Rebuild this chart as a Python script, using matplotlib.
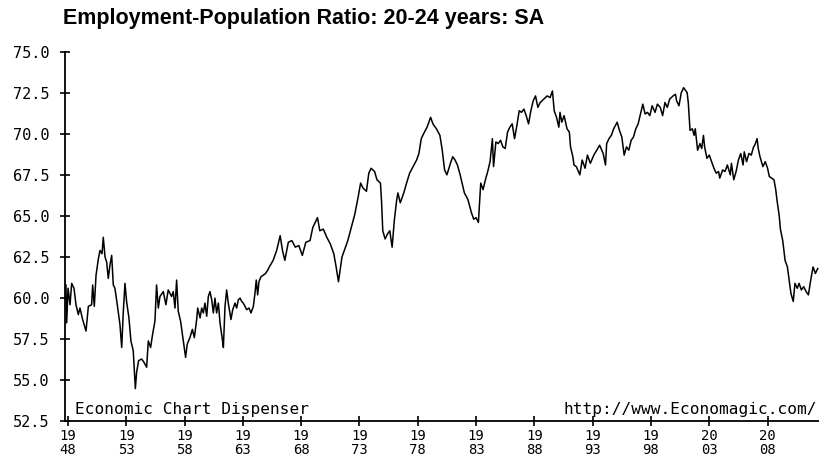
import numpy as np
import matplotlib
matplotlib.use("Agg")
import matplotlib.pyplot as plt

# Employment-population ratio, 20-24 years, SA
years_a = [1947.83, 1947.89, 1948.01, 1948.18, 1948.32, 1948.52, 1948.69, 1948.89,
           1949.03, 1949.26, 1949.55, 1949.75, 1950.03, 1950.12, 1950.26, 1950.41,
           1950.61, 1950.75, 1950.92, 1951.03, 1951.18, 1951.32, 1951.46, 1951.60,
           1951.75, 1951.89, 1952.03, 1952.23, 1952.46, 1952.61, 1952.75, 1952.89,
           1953.03, 1953.23, 1953.40, 1953.60, 1953.78, 1953.89, 1954.06, 1954.32,
           1954.52, 1954.75, 1954.89, 1955.09, 1955.26, 1955.46, 1955.60, 1955.75,
           1955.89, 1956.18, 1956.40, 1956.60, 1956.89, 1957.03, 1957.18, 1957.32,
           1957.46, 1957.66, 1957.89, 1958.09, 1958.23, 1958.46, 1958.67, 1958.84,
           1959.04, 1959.13, 1959.33, 1959.47, 1959.61, 1959.75, 1959.90, 1960.04,
           1960.18, 1960.33, 1960.47, 1960.61, 1960.75, 1960.90, 1961.04, 1961.24,
           1961.33, 1961.47, 1961.61, 1961.75, 1961.98, 1962.13, 1962.33, 1962.47,
           1962.61, 1962.76, 1962.90, 1963.04, 1963.18, 1963.33, 1963.53, 1963.70,
           1963.90, 1964.04, 1964.15, 1964.27, 1964.38, 1964.55, 1964.75, 1964.95,
           1965.13, 1965.27]
ratio_a = [60.8, 58.5, 60.6, 59.6, 60.9, 60.6, 59.6, 59.0,
           59.4, 58.7, 58.0, 59.5, 59.6, 60.8, 59.5, 61.4,
           62.4, 62.9, 62.7, 63.7, 62.5, 62.2, 61.2, 62.0,
           62.6, 60.8, 60.6, 59.6, 58.4, 57.0, 59.2, 60.9,
           59.8, 58.8, 57.4, 56.8, 54.5, 55.5, 56.2, 56.3,
           56.1, 55.8, 57.4, 57.0, 57.8, 58.6, 60.8, 59.4,
           60.1, 60.4, 59.6, 60.5, 60.1, 60.4, 59.4, 61.1,
           59.2, 58.6, 57.4, 56.4, 57.2, 57.6, 58.1, 57.6,
           58.7, 59.4, 58.8, 59.4, 59.1, 59.7, 58.9, 60.1,
           60.4, 59.9, 59.1, 60.0, 59.1, 59.7, 58.5, 57.5,
           57.0, 59.5, 60.5, 59.7, 58.7, 59.3, 59.7, 59.4,
           59.9, 60.0, 59.8, 59.7, 59.5, 59.3, 59.4, 59.1,
           59.5, 60.3, 61.1, 60.2, 61.0, 61.3, 61.4, 61.5,
           61.7, 61.9]

years_b = [1965.60, 1965.90, 1966.20, 1966.40, 1966.60, 1966.90, 1967.20, 1967.50,
           1967.80, 1968.10, 1968.40, 1968.76, 1969.00, 1969.40, 1969.60, 1969.90,
           1970.20, 1970.50, 1970.80, 1971.00, 1971.20, 1971.50, 1971.80, 1972.00,
           1972.30, 1972.60, 1972.90, 1973.10, 1973.30, 1973.60, 1973.80, 1974.00,
           1974.30, 1974.50, 1974.80, 1974.90, 1975.00, 1975.20, 1975.40, 1975.60,
           1975.80, 1976.00, 1976.20, 1976.30, 1976.50, 1976.80, 1977.00, 1977.30,
           1977.60, 1977.90, 1978.10, 1978.30, 1978.50, 1978.80, 1979.00, 1979.10,
           1979.30, 1979.60, 1979.90, 1980.10, 1980.30, 1980.50, 1980.80, 1981.00,
           1981.20, 1981.40, 1981.60, 1981.80, 1982.00, 1982.30, 1982.60, 1982.80,
           1983.00, 1983.20, 1983.40, 1983.60, 1983.80, 1984.00, 1984.20, 1984.40,
           1984.50, 1984.70, 1984.90, 1985.10, 1985.30, 1985.50, 1985.70, 1985.90,
           1986.10, 1986.30, 1986.50, 1986.70, 1986.90, 1987.10, 1987.30, 1987.50,
           1987.70, 1987.90, 1988.10, 1988.30]
ratio_b = [62.3, 62.9, 63.8, 62.9, 62.3, 63.4, 63.5, 63.1,
           63.2, 62.6, 63.4, 63.5, 64.3, 64.9, 64.1, 64.2,
           63.7, 63.3, 62.7, 61.9, 61.0, 62.5, 63.1, 63.5,
           64.3, 65.1, 66.2, 67.0, 66.7, 66.5, 67.6, 67.9,
           67.7, 67.2, 67.0, 65.8, 64.1, 63.6, 63.9, 64.1,
           63.1, 64.8, 66.0, 66.4, 65.8, 66.4, 66.9, 67.6,
           68.0, 68.4, 68.8, 69.7, 70.0, 70.4, 70.8, 71.0,
           70.6, 70.3, 69.9, 69.0, 67.8, 67.5, 68.2, 68.6,
           68.4, 68.1, 67.6, 67.0, 66.4, 66.0, 65.2, 64.8,
           64.9, 64.6, 67.0, 66.6, 67.2, 67.7, 68.3, 69.7,
           68.0, 69.5, 69.4, 69.6, 69.2, 69.1, 70.1, 70.4,
           70.6, 69.7, 70.5, 71.4, 71.3, 71.5, 71.1, 70.6,
           71.4, 72.0, 72.3, 71.6]

years_c = [1988.50, 1988.80, 1989.10, 1989.35, 1989.55, 1989.70, 1989.90, 1990.10,
           1990.20, 1990.35, 1990.55, 1990.80, 1991.00, 1991.10, 1991.30, 1991.40,
           1991.60, 1991.90, 1992.10, 1992.35, 1992.55, 1992.80, 1993.10, 1993.35,
           1993.60, 1993.90, 1994.10, 1994.20, 1994.40, 1994.60, 1994.80, 1995.10,
           1995.30, 1995.50, 1995.70, 1995.90, 1996.10, 1996.30, 1996.50, 1996.70,
           1996.90, 1997.10, 1997.30, 1997.50, 1997.70, 1997.90, 1998.10, 1998.35,
           1998.55, 1998.80, 1999.00, 1999.20, 1999.40, 1999.60, 1999.90, 2000.10,
           2000.20, 2000.40, 2000.60, 2000.80, 2001.10, 2001.20, 2001.35, 2001.55,
           2001.70, 2001.80, 2002.00, 2002.20, 2002.35, 2002.50, 2002.60, 2002.80,
           2003.00, 2003.20, 2003.40, 2003.60, 2003.80, 2003.90, 2004.15, 2004.35,
           2004.55, 2004.80, 2004.90, 2005.10, 2005.30, 2005.50, 2005.70, 2005.90,
           2006.00, 2006.20, 2006.40, 2006.60, 2006.80, 2006.90, 2007.10, 2007.20,
           2007.35, 2007.60, 2007.80, 2008.00, 2008.15, 2008.35, 2008.55, 2008.70,
           2008.80, 2009.00, 2009.10, 2009.30, 2009.50, 2009.70, 2009.90, 2010.00,
           2010.20, 2010.35, 2010.55, 2010.70, 2010.90, 2011.10, 2011.30, 2011.50,
           2011.70, 2011.90, 2012.10, 2012.30]
ratio_c = [71.9, 72.1, 72.3, 72.2, 72.6, 71.4, 71.0, 70.4,
           71.3, 70.7, 71.1, 70.3, 70.1, 69.2, 68.6, 68.1,
           68.0, 67.5, 68.4, 67.9, 68.7, 68.2, 68.7, 69.0,
           69.3, 68.8, 68.1, 69.4, 69.7, 69.9, 70.3, 70.7,
           70.2, 69.8, 68.7, 69.2, 69.0, 69.6, 69.8, 70.3,
           70.6, 71.2, 71.8, 71.2, 71.3, 71.1, 71.7, 71.3,
           71.8, 71.6, 71.1, 71.9, 71.6, 72.1, 72.3, 72.4,
           72.0, 71.7, 72.5, 72.8, 72.5, 71.9, 70.2, 70.3,
           69.9, 70.3, 69.0, 69.4, 69.1, 69.9, 69.2, 68.5,
           68.7, 68.3, 67.9, 67.6, 67.7, 67.3, 67.8, 67.7,
           68.1, 67.5, 68.2, 67.2, 67.7, 68.4, 68.8, 68.1,
           68.9, 68.3, 68.8, 68.7, 69.2, 69.3, 69.7, 69.1,
           68.6, 68.0, 68.3, 67.9, 67.4, 67.3, 67.2, 66.6,
           66.0, 65.0, 64.2, 63.5, 62.3, 61.9, 60.8, 60.3,
           59.8, 60.9, 60.6, 60.9, 60.5, 60.7, 60.4, 60.2,
           61.1, 61.9, 61.5, 61.8]

ytick_vals = [52.5, 55.0, 57.5, 60.0, 62.5, 65.0, 67.5, 70.0, 72.5, 75.0]
xtick_years = [1948, 1953, 1958, 1963, 1968, 1973, 1978, 1983, 1988, 1993, 1998, 2003, 2008]

years = np.array(years_a + years_b + years_c)
ratio = np.array(ratio_a + ratio_b + ratio_c)

mono = 'DejaVu Sans Mono'

fig = plt.figure(figsize=(8.19, 4.62), dpi=100)
ax = fig.add_axes([0.0794, 0.0877, 0.9206, 0.8008])
ax.plot(years, ratio, color='black', linewidth=1.1)

ax.set_xlim(1947.75, 2012.41)
ax.set_ylim(52.5, 75.0)
ax.set_yticks(ytick_vals)
ax.set_yticklabels(['%.1f' % v for v in ytick_vals], fontfamily=mono, fontsize=11)
ax.set_xticks(xtick_years)
ax.set_xticklabels(['%s\n%s' % (str(y)[:2], str(y)[2:]) for y in xtick_years],
                   fontfamily=mono, fontsize=10, linespacing=0.95)

for side in ['top', 'right']:
    ax.spines[side].set_visible(False)
for side in ['left', 'bottom']:
    ax.spines[side].set_linewidth(1.3)
ax.tick_params(axis='both', direction='inout', length=7, width=1.2, colors='black')
ax.tick_params(axis='y', pad=7.5)
ax.tick_params(axis='x', pad=2)

fig.text(0.0770, 0.961, 'Employment-Population Ratio: 20-24 years: SA',
         fontfamily='Liberation Sans', fontweight='bold', fontsize=15.5,
         ha='left', va='center')
ax.text(0.013, 0.012, 'Economic Chart Dispenser', transform=ax.transAxes,
        fontfamily=mono, fontsize=11.6, ha='left', va='bottom')
ax.text(0.997, 0.012, 'http://www.Economagic.com/', transform=ax.transAxes,
        fontfamily=mono, fontsize=11.6, ha='right', va='bottom')

plt.savefig('out.png', dpi=100)
